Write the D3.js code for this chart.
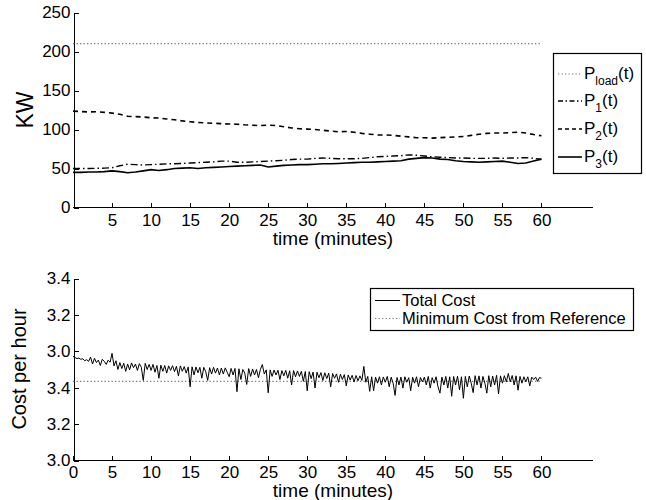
<!DOCTYPE html>
<html>
<head>
<meta charset="utf-8">
<title>Power sharing and cost</title>
<script src="https://d3js.org/d3.v7.min.js"></script>
<style>
body { margin: 0; background: #fff; }
text { font-family: "Liberation Sans", Arial, Helvetica, sans-serif; fill: #000; }
.axis path, .axis line { stroke: #000; stroke-width: 1; shape-rendering: crispEdges; }
.axis text { font-size: 17px; }
</style>
</head>
<body>
<div id="chart"></div>
<script>
// ---- data ----
// top panel, sampled every minute (0..60)
const minutes = d3.range(0, 61);
const loadTimes = [0, 60];
const pLoad = [210, 210];
const p1 = [50, 50, 50, 50.2, 50.5, 51, 53.5, 55.5, 55, 54.5,
  55, 55.5, 56, 56, 56.5, 57, 57.5, 58, 58.5, 59.5,
  59.5, 58, 58, 58.5, 59, 59.5, 60, 60.5, 61.5, 62,
  62, 63, 63.5, 63, 62.5, 62.5, 62.5, 63, 64, 65,
  65.5, 66, 66.5, 67.5, 67, 66, 65, 64.5, 64, 63.5,
  63.5, 63, 63, 63, 63.5, 63, 63.5, 63.5, 64, 63, 62];
const p2 = [123.5, 123, 122.5, 122.8, 122, 121, 119.5, 117, 116.5, 116,
  115, 114.8, 113.5, 112.5, 111, 110, 109, 108.5, 108, 107.5,
  107, 106.8, 106, 105.5, 105, 105.5, 105, 103.5, 102, 101,
  100.5, 100, 99, 98, 97, 97.5, 96.5, 95, 94, 93,
  93, 92.5, 91.5, 90.5, 89.5, 89.5, 89, 89.5, 90, 90.5,
  91, 92.5, 94, 95, 95.5, 95.5, 96, 96.5, 95.5, 93.5, 92];
const p3 = [45, 45, 45.5, 45.5, 46, 47, 46, 44.5, 45.5, 47,
  48.5, 47.5, 48.5, 50, 50.5, 51, 50, 51, 51.5, 52,
  52.5, 53, 53.5, 54, 54.5, 52, 53, 54, 54.5, 55,
  55, 55.5, 56, 56, 56.5, 57, 57.5, 58, 58, 58.5,
  59, 59.5, 60, 62, 63, 64, 63.5, 62, 61.5, 60,
  59, 58.5, 58, 58.5, 59, 59.5, 58, 56.5, 57, 59.5, 62];

// bottom panel, sampled every quarter minute (0..60)
const costTimes = d3.range(0, 60.001, 0.25);
const totalCost = [
  3.572, 3.566, 3.560, 3.563,  3.556, 3.559, 3.548, 3.554,  3.545, 3.568, 3.530, 3.562,
  3.538, 3.552, 3.522, 3.556,  3.545, 3.528, 3.551, 3.540,  3.589, 3.520, 3.548, 3.500,
  3.538, 3.505, 3.534, 3.490,  3.530, 3.498, 3.536, 3.510,  3.530, 3.495, 3.532, 3.512,
  3.440, 3.534, 3.500, 3.528,  3.495, 3.528, 3.485, 3.522,  3.452, 3.524, 3.490, 3.522,
  3.480, 3.520, 3.495, 3.521,  3.488, 3.518, 3.465, 3.520,  3.490, 3.516, 3.480, 3.514,
  3.405, 3.515, 3.470, 3.514,  3.482, 3.512, 3.452, 3.512,  3.488, 3.440, 3.510, 3.475,
  3.512, 3.480, 3.508, 3.470,  3.508, 3.475, 3.509, 3.485,  3.460, 3.506, 3.470, 3.506,
  3.378, 3.504, 3.445, 3.500,  3.480, 3.418, 3.505, 3.462,  3.503, 3.470, 3.500, 3.455,
  3.500, 3.527, 3.475, 3.498,  3.372, 3.498, 3.462, 3.497,  3.470, 3.496, 3.445, 3.494,
  3.465, 3.495, 3.452, 3.493,  3.415, 3.494, 3.460, 3.492,  3.462, 3.490, 3.435, 3.489,
  3.383, 3.488, 3.450, 3.486,  3.398, 3.485, 3.455, 3.483,  3.440, 3.482, 3.450, 3.480,
  3.405, 3.478, 3.452, 3.476,  3.430, 3.474, 3.445, 3.472,  3.410, 3.470, 3.442, 3.468,
  3.432, 3.467, 3.438, 3.465,  3.440, 3.517, 3.430, 3.462,  3.380, 3.460, 3.383, 3.458,
  3.425, 3.460, 3.415, 3.459,  3.430, 3.462, 3.405, 3.458,  3.425, 3.358, 3.456, 3.415,
  3.458, 3.398, 3.460, 3.430,  3.455, 3.383, 3.458, 3.425,  3.460, 3.405, 3.456, 3.432,
  3.458, 3.415, 3.462, 3.398,  3.455, 3.425, 3.460, 3.405,  3.370, 3.458, 3.415, 3.462,
  3.398, 3.460, 3.353, 3.462,  3.415, 3.463, 3.388, 3.460,  3.342, 3.462, 3.405, 3.464,
  3.425, 3.373, 3.466, 3.415,  3.465, 3.398, 3.462, 3.425,  3.370, 3.466, 3.405, 3.464,
  3.415, 3.468, 3.366, 3.465,  3.425, 3.466, 3.432, 3.478,  3.432, 3.467, 3.415, 3.465,
  3.386, 3.462, 3.425, 3.460,  3.432, 3.460, 3.410, 3.458,  3.445, 3.458, 3.435, 3.456,
  3.452];
const refTimes = [0, 60];
const minCost = [3.435, 3.435];

// ticks
const xTicksTop = d3.range(5, 61, 5);
const xTicksBottom = d3.range(0, 61, 5);
const yTicksTop = [0, 50, 100, 150, 200, 250];
const yTicksBottom = [3.0, 3.2, 3.4, 3.6, 3.8, 4.0];
const yTickLabelsBottom = ["3.0", "3.2", "3.4", "3.0", "3.2", "3.4"];

// ---- layout ----
const width = 646, height = 500;
const svg = d3.select("#chart").append("svg")
    .attr("width", width)
    .attr("height", height);

const x = d3.scaleLinear().domain([0, 66.6]).range([73, 593]);
const yTop = d3.scaleLinear().domain([0, 250]).range([207.5, 12.5]);
const yBot = d3.scaleLinear().domain([3.0, 4.0]).range([460.5, 278.5]);

// ---- top panel ----
svg.append("g").attr("class", "axis")
    .attr("transform", "translate(0,207.5)")
    .call(d3.axisBottom(x).tickValues(xTicksTop).tickSizeInner(-5).tickSizeOuter(0).tickPadding(6))
    .call(g => g.select(".domain").attr("d", "M73,0H593"));
svg.append("g").attr("class", "axis")
    .attr("transform", "translate(73.5,0)")
    .call(d3.axisLeft(yTop).tickValues(yTicksTop).tickSizeInner(-5).tickSizeOuter(0).tickPadding(3));

const lineTop = (xs, ys) => d3.line().x((d, i) => x(xs[i])).y(d => yTop(d))(ys);

svg.append("path").attr("d", lineTop(loadTimes, pLoad))
    .attr("fill", "none").attr("stroke", "#777").attr("stroke-width", 1.2)
    .attr("stroke-dasharray", "1.3,2.2");
svg.append("path").attr("d", lineTop(minutes, p2))
    .attr("fill", "none").attr("stroke", "#000").attr("stroke-width", 1.6)
    .attr("stroke-dasharray", "5,4");
svg.append("path").attr("d", lineTop(minutes, p1))
    .attr("fill", "none").attr("stroke", "#000").attr("stroke-width", 1.4)
    .attr("stroke-dasharray", "7,3,1.5,3");
svg.append("path").attr("d", lineTop(minutes, p3))
    .attr("fill", "none").attr("stroke", "#000").attr("stroke-width", 1.6);

svg.append("text").attr("text-anchor", "middle")
    .attr("transform", "translate(33,110) rotate(-90)")
    .style("font-size", "23px").text("KW");
svg.append("text").attr("text-anchor", "middle")
    .attr("x", 333).attr("y", 245)
    .style("font-size", "19px").text("time (minutes)");

// top legend
const legTop = svg.append("g");
legTop.append("rect").attr("x", 553.5).attr("y", 53.5).attr("width", 88).attr("height", 120)
    .attr("fill", "#fff").attr("stroke", "#000").attr("stroke-width", 1.2);
const topItems = [
  {sub: "load", dash: "1.3,2.2", color: "#777", w: 1.2, y: 74},
  {sub: "1", dash: "5,2.5,1.5,2.5", color: "#000", w: 1.4, y: 101},
  {sub: "2", dash: "4,3", color: "#000", w: 1.6, y: 129},
  {sub: "3", dash: null, color: "#000", w: 1.6, y: 157}
];
topItems.forEach(it => {
  legTop.append("line").attr("x1", 558).attr("x2", 582).attr("y1", it.y).attr("y2", it.y)
      .attr("stroke", it.color).attr("stroke-width", it.w)
      .attr("stroke-dasharray", it.dash);
  const t = legTop.append("text").attr("x", 584).attr("y", it.y + 5).style("font-size", "17px");
  t.append("tspan").text("P");
  t.append("tspan").attr("dy", 6).style("font-size", "12px").text(it.sub);
  t.append("tspan").attr("dy", -6).text("(t)");
});

// ---- bottom panel ----
svg.append("g").attr("class", "axis")
    .attr("transform", "translate(0,460.5)")
    .call(d3.axisBottom(x).tickValues(xTicksBottom).tickSizeInner(-5).tickSizeOuter(0).tickPadding(5))
    .call(g => g.select(".domain").attr("d", "M73,0H593"));
svg.append("g").attr("class", "axis")
    .attr("transform", "translate(73.5,0)")
    .call(d3.axisLeft(yBot).tickValues(yTicksBottom).tickSizeInner(-5).tickSizeOuter(0).tickPadding(3)
        .tickFormat((d, i) => yTickLabelsBottom[i]));

const lineBot = (xs, ys) => d3.line().x((d, i) => x(xs[i])).y(d => yBot(d))(ys);

svg.append("path").attr("d", lineBot(refTimes, minCost))
    .attr("fill", "none").attr("stroke", "#777").attr("stroke-width", 1.2)
    .attr("stroke-dasharray", "1.3,2.2");
svg.append("path").attr("d", lineBot(costTimes, totalCost))
    .attr("fill", "none").attr("stroke", "#000").attr("stroke-width", 1)
    .attr("stroke-linejoin", "miter");

svg.append("text").attr("text-anchor", "middle")
    .attr("transform", "translate(26,369) rotate(-90)")
    .style("font-size", "20px").text("Cost per hour");
svg.append("text").attr("text-anchor", "middle")
    .attr("x", 333).attr("y", 497)
    .style("font-size", "19px").text("time (minutes)");

// bottom legend
const legBot = svg.append("g");
legBot.append("rect").attr("x", 370.5).attr("y", 288.5).attr("width", 263).attr("height", 42)
    .attr("fill", "#fff").attr("stroke", "#000").attr("stroke-width", 1.2);
const botItems = [
  {label: "Total Cost", dash: null, color: "#000", y: 300.5},
  {label: "Minimum Cost from Reference", dash: "1.3,2.2", color: "#777", y: 318.5}
];
botItems.forEach(it => {
  legBot.append("line").attr("x1", 375).attr("x2", 400).attr("y1", it.y).attr("y2", it.y)
      .attr("stroke", it.color).attr("stroke-width", 1)
      .attr("stroke-dasharray", it.dash);
  legBot.append("text").attr("x", 402).attr("y", it.y + 5.5)
      .style("font-size", "16.5px").text(it.label);
});
</script>
</body>
</html>
